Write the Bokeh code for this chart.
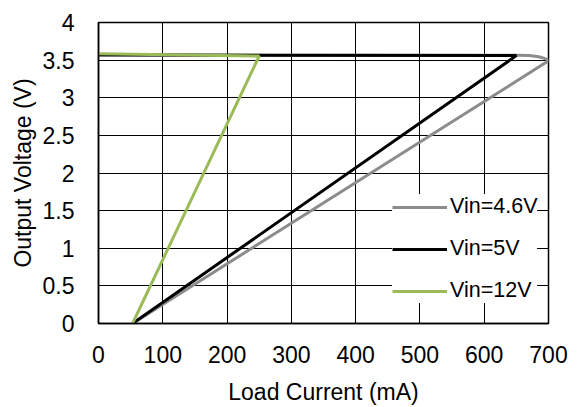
from bokeh.plotting import figure
from bokeh.models import Range1d, FixedTicker, Legend, LegendItem
from bokeh.embed import file_html
from bokeh.resources import INLINE

# Data
x_ticks = [0, 100, 200, 300, 400, 500, 600, 700]
y_ticks = [0, 0.5, 1, 1.5, 2, 2.5, 3, 3.5, 4]
y_tick_labels = ["0", "0.5", "1", "1.5", "2", "2.5", "3", "3.5", "4"]

vin46_x = [0, 650, 670, 685, 695, 700, 53]
vin46_y = [3.565, 3.565, 3.56, 3.545, 3.52, 3.49, 0]

vin5_x = [0, 650, 53]
vin5_y = [3.57, 3.56, 0]

vin12_x = [0, 250, 53]
vin12_y = [3.585, 3.555, 0]

FONT = "Liberation Sans"
FS = "23px"
LFS = "21.5px"

p = figure(width=579, height=407, output_backend="svg", toolbar_location=None,
           x_range=Range1d(0, 700), y_range=Range1d(0, 4),
           min_border_left=98, min_border_right=31, min_border_top=22, min_border_bottom=83)
p.background_fill_color = "white"
p.border_fill_color = "white"
p.outline_line_color = "black"
p.outline_line_width = 1.5

r1 = p.line(vin46_x, vin46_y, line_color="#8c8c8c", line_width=3)
r2 = p.line(vin5_x, vin5_y, line_color="black", line_width=3)
r3 = p.line(vin12_x, vin12_y, line_color="#9bbb59", line_width=3)

p.xaxis.ticker = FixedTicker(ticks=x_ticks)
p.yaxis.ticker = FixedTicker(ticks=y_ticks)
p.yaxis.major_label_overrides = {t: l for t, l in zip(y_ticks, y_tick_labels)}

for ax in (p.xaxis, p.yaxis):
    ax.major_tick_line_color = None
    ax.minor_tick_line_color = None
    ax.axis_line_color = "black"
    ax.axis_line_width = 1.5
    ax.major_label_text_font = FONT
    ax.major_label_text_font_size = FS
    ax.major_label_text_color = "black"
    ax.axis_label_text_font = FONT
    ax.axis_label_text_font_size = FS
    ax.axis_label_text_font_style = "normal"
    ax.axis_label_text_color = "black"

p.xaxis.axis_label = "Load Current (mA)"
p.yaxis.axis_label = "Output Voltage (V)"
p.xaxis.major_label_standoff = 16
p.yaxis.major_label_standoff = 18
p.xaxis.axis_label_standoff = 13
p.yaxis.axis_label_standoff = 4

p.grid.grid_line_color = "black"
p.grid.grid_line_width = 1
p.grid.grid_line_alpha = 1

legend = Legend(items=[LegendItem(label="Vin=4.6V", renderers=[r1]),
                       LegendItem(label="Vin=5V", renderers=[r2]),
                       LegendItem(label="Vin=12V", renderers=[r3])],
                location=(294, 20))
legend.background_fill_color = "white"
legend.background_fill_alpha = 1
legend.border_line_color = None
legend.label_text_font = FONT
legend.label_text_font_size = LFS
legend.label_text_color = "black"
legend.glyph_width = 55
legend.glyph_height = 20
legend.label_height = 20
legend.label_standoff = 3
legend.spacing = 17
legend.padding = 5
legend.margin = 0
p.add_layout(legend, "center")

open("out.html", "w").write(file_html(p, INLINE))
